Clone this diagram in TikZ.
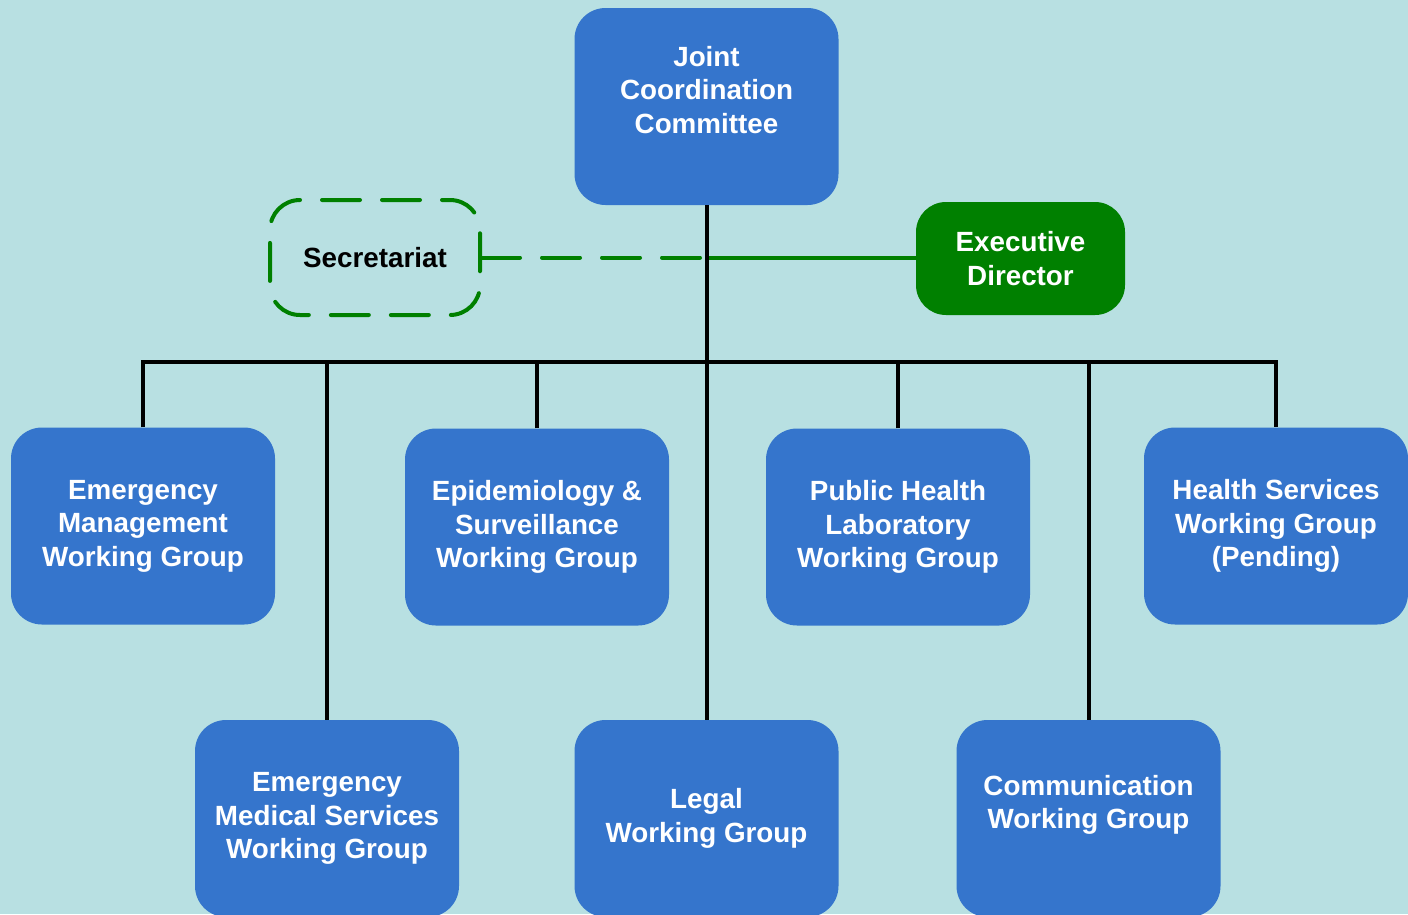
\documentclass[tikz,border=0pt]{standalone}
\usepackage{fontspec}
\setmainfont{Liberation Sans}
\usepackage{tikz}
\usetikzlibrary{calc}

\definecolor{bgteal}{RGB}{184,224,226}
\definecolor{boxblue}{RGB}{53,117,204}
\definecolor{dirgreen}{RGB}{0,128,0}

\tikzset{
  unit/.style={rectangle, rounded corners=31, fill=boxblue, text=white,
    minimum width=264, minimum height=197, align=center, inner sep=0,
    font=\fontsize{27.8}{33.5}\selectfont\bfseries},
  director/.style={rectangle, rounded corners=30, fill=dirgreen, text=white,
    minimum width=209, minimum height=113, align=center, inner sep=0,
    font=\fontsize{27.8}{33.5}\selectfont\bfseries},
  secbox/.style={rectangle, rounded corners=30, draw=dirgreen, line width=4,
    dash pattern=on 38 off 22, dash phase=30, line cap=round,
    minimum width=210, minimum height=115, inner sep=0,
    font=\fontsize{27.8}{33.5}\selectfont\bfseries},
  tree/.style={line width=4, black},
  secline/.style={line width=4, dirgreen, dash pattern=on 38 off 22, line cap=round},
  dirline/.style={line width=4, dirgreen}
}

\begin{document}
\begin{tikzpicture}[x=1pt, y=-1pt]

\clip (0,0) rectangle (1408,914);
\fill[bgteal] (0,0) rectangle (1408,914);

% First, define nodes
\draw (706.5,106.5) node[unit] (jcc) {Joint\\Coordination\\Committee\\~};
\draw (375,257.5) node[secbox] (sec) {Secretariat};
\draw (1020.5,258.5) node[director] (dir) {Executive\\Director};

% first row of working groups
\draw (143,526) node[unit] (em) {Emergency\\Management\\Working Group};
\draw (537,527) node[unit] (epi) {Epidemiology \&\\Surveillance\\Working Group};
\draw (898,527) node[unit] (phl) {Public Health\\Laboratory\\Working Group};
\draw (1276,526) node[unit] (hs) {Health Services\\Working Group\\(Pending)};

% second row
\draw (327,818.5) node[unit] (ems) {Emergency\\Medical Services\\Working Group};
\draw (706.5,818.5) node[unit] (legal) {Legal\\Working Group};
\draw (1088.5,818.5) node[unit] (comm) {Communication\\Working Group\\~};

% Now the connectors
\coordinate (bus) at (706.5,362);
\coordinate (mid) at (706.5,258);

\draw[secline] (sec.east) -- (sec.east -| mid);
\draw[dirline] (mid) -- (mid -| dir.west);

\draw[tree] (jcc.south) -- (legal.north);
\draw[tree] (em.north) |- (bus) -| (hs.north);
\draw[tree] (ems.north) -- (ems.north |- bus);
\draw[tree] (epi.north) -- (epi.north |- bus);
\draw[tree] (phl.north) -- (phl.north |- bus);
\draw[tree] (comm.north) -- (comm.north |- bus);

\end{tikzpicture}
\end{document}
